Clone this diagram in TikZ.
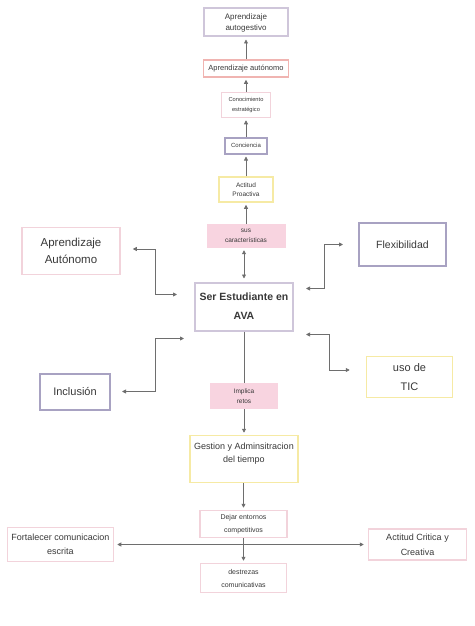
\documentclass[tikz,border=0pt]{standalone}
\usepackage{fontspec}
\setmainfont{Liberation Sans}
\usetikzlibrary{arrows.meta}

\definecolor{lineGray}{HTML}{6E6E6E}
\definecolor{txtGray}{HTML}{383838}
\definecolor{lavBorder}{HTML}{CFC6DA}
\definecolor{purBorder}{HTML}{A8A2C2}
\definecolor{salBorder}{HTML}{F0B4B1}
\definecolor{pinkBorder}{HTML}{F2D3DB}
\definecolor{yelBorder}{HTML}{F6EAA4}
\definecolor{pinkFill}{HTML}{F8D4E0}

\newcommand{\fs}[2]{\fontsize{#1}{#2}\selectfont}

\begin{document}
\begin{tikzpicture}[
        x=1pt, y=-1pt,
        box/.style={draw, line width=1.5pt, inner sep=0pt, align=center, text=txtGray},
        tag/.style={fill=pinkFill, inner sep=0pt, align=center, text=txtGray},
        arr/.style={draw=lineGray, line width=0.8pt, -{Triangle[length=4pt,width=4pt]}},
        dbl/.style={draw=lineGray, line width=0.8pt, {Triangle[length=4pt,width=4pt]}-{Triangle[length=4pt,width=4pt]}}
    ]
    \useasboundingbox (0,0) rectangle (474,626);

    % chain up from the centre
    \node[box, draw=lavBorder, line width=2pt, minimum width=84pt, minimum height=28pt, font=\fs{8}{11}] (autog) at (246,22.5) {Aprendizaje\\autogestivo};
    \node[box, draw=salBorder, minimum width=85pt, minimum height=17pt, font=\fs{7.5}{10}] (auton) at (246,68.5) {Aprendizaje autónomo};
    \node[box, draw=pinkBorder, minimum width=49pt, minimum height=25pt, font=\fs{5.7}{10}] (conoc) at (246,105) {Conocimiento\\estratégico};
    \node[box, draw=purBorder, line width=2pt, minimum width=42pt, minimum height=16pt, font=\fs{6}{9}] (concien) at (246,145.5) {Conciencia};
    \node[box, draw=yelBorder, minimum width=54pt, minimum height=25pt, font=\fs{6.5}{9.5}] (actitud) at (246,189.5) {Actitud\\Proactiva};
    \node[tag, minimum width=79pt, minimum height=24pt, font=\fs{6.5}{10}] (sus) at (246,236) {sus\\características};

    % centre
    \node[box, draw=lavBorder, line width=2pt, minimum width=98pt, minimum height=48pt, font=\fs{10.5}{19}\bfseries] (ser) at (244,306.5) {Ser Estudiante en\\AVA};

    % sides
    \node[box, draw=pinkBorder, minimum width=98pt, minimum height=47pt, font=\fs{11.5}{17}] (aprAut) at (71,251) {Aprendizaje\\Autónomo};
    \node[box, draw=purBorder, line width=2pt, minimum width=87pt, minimum height=43pt, font=\fs{10.5}{13}] (flex) at (402.5,244.5) {Flexibilidad};
    \node[box, draw=purBorder, line width=2pt, minimum width=70pt, minimum height=36pt, font=\fs{11}{13}] (incl) at (75,391.5) {Inclusión};
    \node[box, draw=yelBorder, minimum width=86pt, minimum height=41pt, font=\fs{11}{19}] (tic) at (409.5,377) {uso de\\TIC};

    % chain down
    \node[tag, minimum width=68pt, minimum height=26pt, font=\fs{6.5}{10}] (implica) at (244,396) {Implica\\retos};
    \node[box, draw=yelBorder, minimum width=108pt, minimum height=47pt, font=\fs{9}{13}] (gestion) at (244,459) {Gestion y Adminsitracion\\del tiempo\\\mbox{}};
    \node[box, draw=pinkBorder, minimum width=87pt, minimum height=27pt, font=\fs{7}{13}] (dejar) at (243.5,524) {Dejar entornos\\competitivos};
    \node[box, draw=pinkBorder, minimum width=86pt, minimum height=29pt, font=\fs{7}{13}] (destr) at (243.5,578) {destrezas\\comunicativas};
    \node[box, draw=pinkBorder, minimum width=106pt, minimum height=34pt, font=\fs{9}{14}] (fort) at (60.5,544.5) {Fortalecer comunicacion\\escrita};
    \node[box, draw=pinkBorder, minimum width=98pt, minimum height=31pt, font=\fs{9}{15}] (critica) at (417.5,544.5) {Actitud Critica y\\Creativa};

    % connectors
    \draw[arr, shorten >=2pt] (auton.north) -- (autog.south);
    \draw[arr, shorten >=2pt] (conoc.north) -- (auton.south);
    \draw[arr, shorten >=2pt] (concien.north) -- (conoc.south);
    \draw[arr, shorten >=2pt] (actitud.north) -- (concien.south);
    \draw[arr, shorten >=2pt] (sus.north) -- (actitud.south);
    \draw[dbl, shorten <=2pt, shorten >=3pt] (sus.south -| ser.north) -- (ser.north);

    \draw[dbl] ([xshift=12pt,yshift=2pt]aprAut.east) -- ++(23,0) |- ([xshift=-17pt,yshift=12pt]ser.west);
    \draw[dbl] ([xshift=12pt,yshift=18pt]ser.east) -- ++(18,0) |- ([xshift=-15pt]flex.west);
    \draw[dbl] ([xshift=11pt]incl.east) -- ++(33,0) |- ([xshift=-10pt,yshift=-32pt]ser.west);
    \draw[dbl] ([xshift=12pt,yshift=-28pt]ser.east) -- ++(23,0) |- ([xshift=-16pt,yshift=7pt]tic.west);

    \draw[draw=lineGray, line width=0.8pt] (ser.south) -- (implica.north);
    \draw[arr, shorten >=2pt] (implica.south) -- (gestion.north);
    \draw[arr, shorten >=2pt] (gestion.south -| dejar.north) -- (dejar.north);
    \draw[arr, shorten >=2pt] (dejar.south) -- (destr.north);
    \draw[dbl, shorten <=3pt, shorten >=4pt] (fort.east) -- (critica.west);
\end{tikzpicture}
\end{document}
